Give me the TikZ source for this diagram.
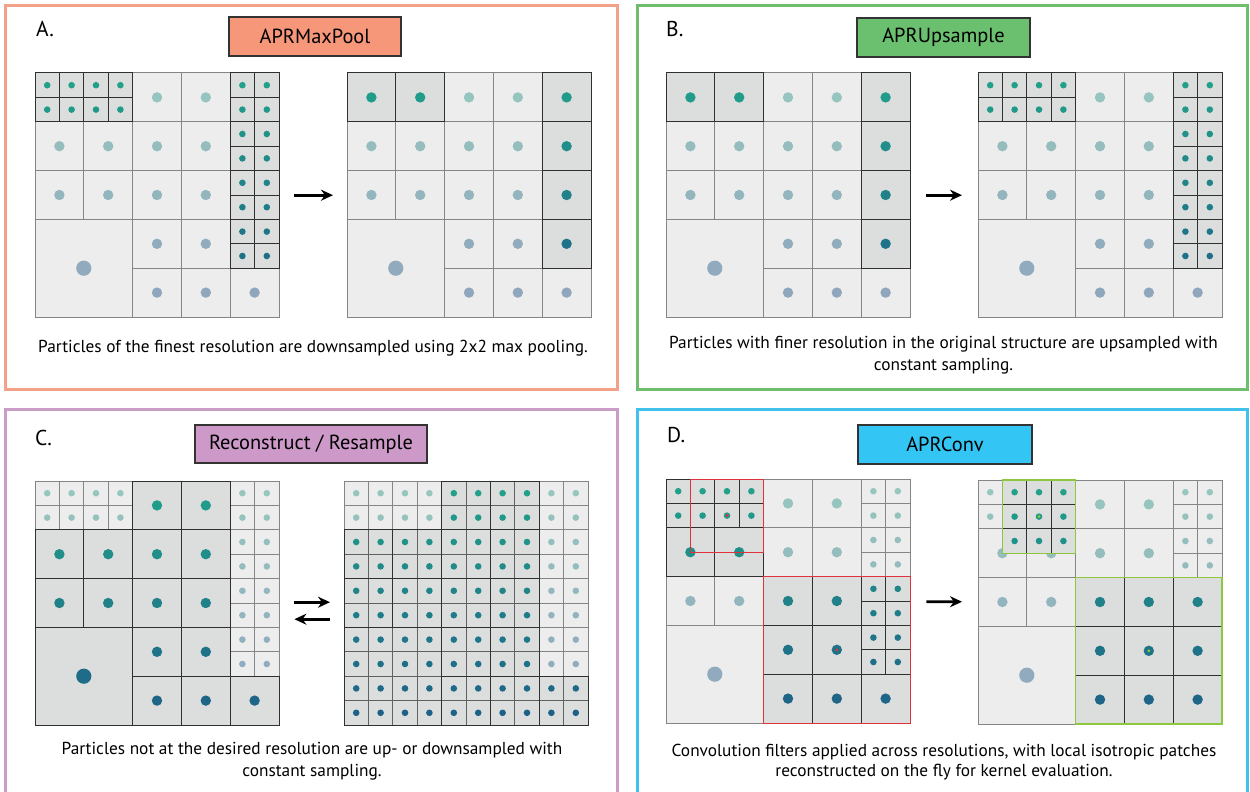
\documentclass[tikz,border=0pt]{standalone}
\usepackage{fontspec}
\setmainfont{PT Sans}
\usetikzlibrary{arrows.meta}

% panel frames and title boxes
\definecolor{pA}{HTML}{F3A189}
\definecolor{fA}{HTML}{F69779}
\definecolor{pB}{HTML}{70BE6D}
\definecolor{fB}{HTML}{6BC070}
\definecolor{pC}{HTML}{CA9DC7}
\definecolor{fC}{HTML}{CC99C8}
\definecolor{pD}{HTML}{40C2EC}
\definecolor{fD}{HTML}{33C6F4}
% particle cells
\definecolor{cellL}{HTML}{EDEDED}
\definecolor{cellD}{HTML}{DCDEDD}
\definecolor{edgeL}{HTML}{858585}
\definecolor{edgeD}{HTML}{303030}
\definecolor{Dtop}{HTML}{22A38A}
\definecolor{Dbot}{HTML}{1D5E88}
\definecolor{Ltop}{HTML}{97C8BF}
\definecolor{Lbot}{HTML}{8FA2BC}
\definecolor{kred}{HTML}{E0323C}
\definecolor{kgreen}{HTML}{8DC63F}

\tikzset{
  panel/.style={line width=3pt},
  titlebox/.style={draw=black!80, line width=1.2pt, minimum height=39pt,
    inner sep=0pt, font=\fontsize{20.4}{22}\selectfont},
  tag/.style={anchor=base west, inner sep=0pt, font=\fontsize{21.5}{23}\selectfont},
  caption/.style={anchor=base, inner sep=0pt, font=\fontsize{17.3}{21}\selectfont},
  arr/.style={line width=2.7pt, -{Stealth[length=12pt,width=11pt]}},
  gridarea/.style={minimum width=244pt, minimum height=244pt, inner sep=0pt,
    anchor=north west},
  lcell/.style={fill=cellL, draw=edgeL, line width=1pt},
  dcell/.style={fill=cellD, draw=edgeD, line width=1pt},
  cell grid/.style={x=48.8pt, y=-48.8pt},
}

% particle dot: centre x, centre y (cell units), radius, family L or D;
% the colour drifts from teal at the top to blue at the bottom
\newcommand\dotat[4]{%
  \pgfmathsetmacro\dmix{max(0,min(100,20*(#2)))}%
  \fill[#4bot!\dmix!#4top] (#1,#2) circle[radius=#3];}

% light / dark cell with its particle: x, y (top-left), size
\newcommand\lcel[3]{%
  \filldraw[lcell] (#1,#2) rectangle ++(#3,#3);
  \pgfmathsetmacro\drad{(#3)<0.75 ? 3.3 : ((#3)<1.5 ? 5.2 : 7.6)}%
  \dotat{#1+#3/2}{#2+#3/2}{\drad pt}{L}}
\newcommand\dcel[3]{%
  \filldraw[dcell] (#1,#2) rectangle ++(#3,#3);
  \pgfmathsetmacro\drad{(#3)<0.75 ? 3.3 : ((#3)<1.5 ? 5.2 : 7.6)}%
  \dotat{#1+#3/2}{#2+#3/2}{\drad pt}{D}}

\newcommand\medlist{2/0,3/0,0/1,1/1,2/1,3/1,0/2,1/2,2/2,3/2,2/3,3/3,2/4,3/4,4/4}

% structure with fine particles (top-left block and right column)
\newcommand\gridfine{%
  \foreach \cx/\ry in \medlist {\lcel{\cx}{\ry}{1}}
  \lcel{0}{3}{2}
  \foreach \cx in {0,0.5,1,1.5}{\foreach \ry in {0,0.5}{\dcel{\cx}{\ry}{0.5}}}
  \foreach \cx in {4,4.5}{\foreach \ry in {0,0.5,1,1.5,2,2.5,3,3.5}{\dcel{\cx}{\ry}{0.5}}}}

% the same structure after pooling of the finest level
\newcommand\gridpooled{%
  \foreach \cx/\ry in \medlist {\lcel{\cx}{\ry}{1}}
  \lcel{0}{3}{2}
  \foreach \cx/\ry in {0/0,1/0,4/0,4/1,4/2,4/3}{\dcel{\cx}{\ry}{1}}}

\begin{document}
\begin{tikzpicture}[x=1pt, y=-1pt]
\useasboundingbox (0,0) rectangle (1250,792);
\fill[white] (0,0) rectangle (1250,792);

% ---------- frames ----------
\draw[panel, pA] (5.5,5.5) rectangle (617.5,389);
\draw[panel, pB] (637,5.5) rectangle (1247.5,389);
\draw[panel, pC] (5.5,409.5) rectangle (617.5,805);
\draw[panel, pD] (637,409.5) rectangle (1247.5,805);

\node[tag] (tagA) at (36,37) {A.};
\node[tag] (tagB) at (666,37) {B.};
\node[tag] (tagC) at (35,445) {C.};
\node[tag] (tagD) at (667,442) {D.};

\node[titlebox, fill=fA, minimum width=172pt] (tA) at (315,36.5) {APRMaxPool};
\node[titlebox, fill=fB, minimum width=173pt] (tB) at (943.5,37.5) {APRUpsample};
\node[titlebox, fill=fC, minimum width=232pt, minimum height=38pt] (tC) at (311,444) {Reconstruct / Resample};
\node[titlebox, fill=fD, minimum width=174pt] (tD) at (945,444.5) {APRConv};

% ---------- A: max pooling ----------
\node[gridarea] (gAL) at (35,73) {};
\node[gridarea] (gAR) at (347,73) {};
\begin{scope}[shift={(35,73)}, cell grid] \gridfine \end{scope}
\begin{scope}[shift={(347,73)}, cell grid] \gridpooled \end{scope}
\draw[arr, shorten <=15pt, shorten >=14pt] (gAL) -- (gAR);
\node[caption] (capA) at (313,352) {Particles of the finest resolution are downsampled using 2x2 max pooling.};

% ---------- B: upsampling ----------
\node[gridarea] (gBL) at (666,73) {};
\node[gridarea] (gBR) at (978,73) {};
\begin{scope}[shift={(666,73)}, cell grid] \gridpooled \end{scope}
\begin{scope}[shift={(978,73)}, cell grid] \gridfine \end{scope}
\draw[arr, shorten <=16pt, shorten >=16pt] (gBL) -- (gBR);
\node[caption] (capB1) at (943.5,348) {Particles with finer resolution in the original structure are upsampled with};
\node[caption] (capB2) at (943.5,370) {constant sampling.};

% ---------- C: reconstruct / resample ----------
\node[gridarea] (gCL) at (35,481) {};
\node[gridarea] (gCR) at (344,481) {};
\begin{scope}[shift={(35,481)}, cell grid]
  \foreach \cx in {0,0.5,1,1.5}{\foreach \ry in {0,0.5}{\lcel{\cx}{\ry}{0.5}}}
  \foreach \cx in {4,4.5}{\foreach \ry in {0,0.5,1,1.5,2,2.5,3,3.5}{\lcel{\cx}{\ry}{0.5}}}
  \foreach \cx/\ry in \medlist {\dcel{\cx}{\ry}{1}}
  \dcel{0}{3}{2}
\end{scope}
\begin{scope}[shift={(344,481)}, cell grid, dcell/.append style={draw=black!62}]
  \foreach \i in {0,...,9}{\foreach \j in {0,...,9}{%
    \pgfmathtruncatemacro\lt{((\j<2)&&((\i<4)||(\i>7)))||((\i>7)&&(\j<8))}%
    \ifnum\lt=1 \lcel{\i/2}{\j/2}{0.5}\fi}}
  \foreach \i in {0,...,9}{\foreach \j in {0,...,9}{%
    \pgfmathtruncatemacro\lt{((\j<2)&&((\i<4)||(\i>7)))||((\i>7)&&(\j<8))}%
    \ifnum\lt=0 \dcel{\i/2}{\j/2}{0.5}\fi}}
  \foreach \cx/\ry in {2/0,3/0,0/1,1/1,2/1,3/1,0/2,1/2,2/2,3/2,2/3,3/3,2/4,3/4,4/4}
    {\draw[edgeD, line width=1pt] (\cx,\ry) rectangle ++(1,1);}
  \draw[edgeD, line width=1pt] (0,3) rectangle ++(2,2);
\end{scope}
\draw[arr, shorten <=15pt, shorten >=14pt] ([yshift=1pt]gCL.east) -- ([yshift=1pt]gCR.west);
\draw[arr, shorten <=14pt, shorten >=15pt] ([yshift=-16pt]gCR.west) -- ([yshift=-16pt]gCL.east);
\node[caption] (capC1) at (312,754) {Particles not at the desired resolution are up- or downsampled with};
\node[caption] (capC2) at (312,776) {constant sampling.};

% ---------- D: convolution ----------
\node[gridarea] (gDL) at (666,479) {};
\node[gridarea] (gDR) at (978,480) {};
\begin{scope}[shift={(666,479)}, cell grid]
  \foreach \cx/\ry in {2/0,3/0,2/1,3/1,0/2,1/2}{\lcel{\cx}{\ry}{1}}
  \lcel{0}{3}{2}
  \foreach \cx in {4,4.5}{\foreach \ry in {0,0.5,1,1.5}{\lcel{\cx}{\ry}{0.5}}}
  \foreach \cx in {0,0.5,1,1.5}{\foreach \ry in {0,0.5}{\dcel{\cx}{\ry}{0.5}}}
  \foreach \cx/\ry in {0/1,1/1,2/2,3/2,2/3,3/3,2/4,3/4,4/4}{\dcel{\cx}{\ry}{1}}
  \foreach \cx in {4,4.5}{\foreach \ry in {2,2.5,3,3.5}{\dcel{\cx}{\ry}{0.5}}}
  % kernel supports around two particles
  \draw[kred, line width=1pt] (0.5,0) rectangle (2,1.5);
  \draw[kred, line width=1pt] (2,2) rectangle (5,5);
  \fill[kred] (1.25,0.75) circle[radius=1.6pt];
  \fill[kred] (3.5,3.5) circle[radius=1.6pt];
\end{scope}
\begin{scope}[shift={(978,480)}, cell grid]
  \foreach \ry in {0,0.5}{\lcel{0}{\ry}{0.5}}
  \foreach \cx/\ry in {0/1,1/1,2/0,3/0,2/1,3/1,0/2,1/2}{\lcel{\cx}{\ry}{1}}
  \lcel{0}{3}{2}
  \foreach \cx in {4,4.5}{\foreach \ry in {0,0.5,1,1.5}{\lcel{\cx}{\ry}{0.5}}}
  % reconstructed isotropic patches
  \foreach \cx in {0.5,1,1.5}{\foreach \ry in {0,0.5,1}{\dcel{\cx}{\ry}{0.5}}}
  \foreach \cx/\ry in {2/2,3/2,4/2,2/3,3/3,4/3,2/4,3/4,4/4}{\dcel{\cx}{\ry}{1}}
  \draw[kgreen, line width=1.2pt] (0.5,0) rectangle (2,1.5);
  \draw[kgreen, line width=1.2pt] (2,2) rectangle (5,5);
  \fill[kgreen] (1.25,0.75) circle[radius=1.6pt];
  \fill[kgreen] (3.5,3.5) circle[radius=1.6pt];
\end{scope}
\draw[arr, shorten <=16pt, shorten >=16pt] (gDL) -- (gDR);
\node[caption] (capD1) at (944,756) {Convolution filters applied across resolutions, with local isotropic patches};
\node[caption] (capD2) at (944,776.5) {reconstructed on the fly for kernel evaluation.};
\end{tikzpicture}
\end{document}
